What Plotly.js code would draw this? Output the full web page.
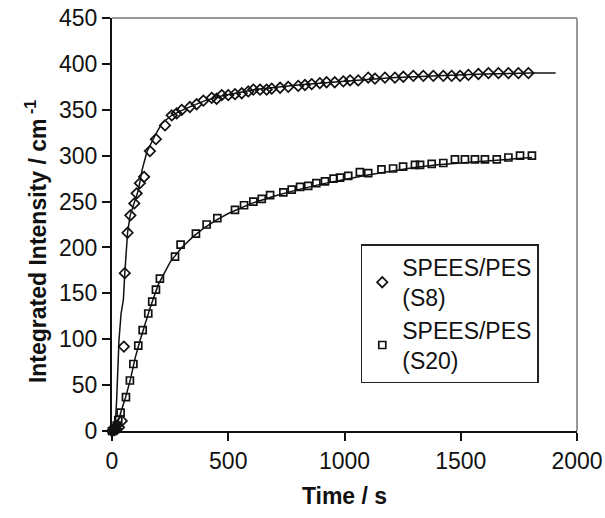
<!DOCTYPE html>
<html>
<head>
<meta charset="utf-8">
<script src="https://cdn.plot.ly/plotly-3.0.1.min.js"></script>
<style>html,body{margin:0;padding:0;background:#fff;}#chart{width:605px;height:518px;}</style>
</head>
<body>
<div id="chart"></div>
<script>
// S8 measured points
var s8Time = [0, 10, 20, 30, 42, 51, 55, 67, 79, 96, 106, 120, 138, 163, 189, 228, 257, 278, 300, 335, 364, 393, 429, 450, 472, 500, 529, 558, 586, 608, 637, 665, 687, 723, 758, 801, 830, 859, 894, 923, 958, 995, 1024, 1059, 1102, 1131, 1174, 1217, 1253, 1296, 1339, 1382, 1425, 1461, 1497, 1533, 1576, 1619, 1662, 1705, 1748, 1791];
var s8Val = [0, 1, 2, 4, 11, 92, 172, 216, 235, 248, 259, 270, 277, 305, 318, 333, 344, 346, 350, 353, 356, 360, 363, 362, 366, 366, 367, 368, 370, 372, 372, 372, 373, 374, 375, 376, 377, 378, 379, 380, 380, 381, 382, 382, 385, 384, 385, 385, 386, 387, 387, 387, 387, 387, 387, 388, 389, 390, 390, 390, 390, 390];
// S8 fitted curve
var s8FitTime = [0, 13, 20, 27, 30, 39, 49, 55, 67, 78, 96, 113, 130, 150, 185, 214, 257, 314, 400, 471, 615, 800, 1000, 1200, 1400, 1600, 1800, 1908];
var s8FitVal = [0, 1, 34, 70, 99, 128, 143, 172, 216, 235, 248, 262, 285, 304, 322, 335, 344, 351, 360, 365, 372, 377, 381, 385, 387, 389, 390, 390];
// S20 measured points
var s20Time = [0, 7, 14, 20, 27, 37, 60, 77, 92, 113, 132, 156, 173, 189, 206, 271, 295, 361, 407, 453, 529, 568, 608, 644, 680, 737, 773, 809, 844, 879, 916, 953, 981, 1016, 1066, 1102, 1159, 1209, 1252, 1303, 1325, 1375, 1425, 1475, 1518, 1561, 1604, 1655, 1705, 1755, 1806];
var s20Val = [0, 1, 3, 6, 12, 20, 37, 55, 73, 93, 110, 128, 141, 154, 166, 190, 203, 215, 225, 232, 241, 246, 250, 253, 257, 260, 263, 266, 267, 270, 272, 275, 276, 278, 282, 281, 285, 286, 288, 290, 290, 291, 292, 296, 296, 296, 296, 296, 298, 300, 300];
// S20 fitted curve
var s20FitTime = [0, 20, 40, 60, 80, 100, 120, 140, 160, 180, 200, 250, 300, 350, 400, 450, 500, 600, 700, 800, 900, 1000, 1100, 1200, 1300, 1400, 1500, 1600, 1700, 1806];
var s20FitVal = [0, 5, 22, 38, 57, 80, 98, 116, 131, 146, 160, 184, 200, 212, 222, 230, 237, 248, 256, 263, 269, 274, 279, 283, 287, 290, 292, 294, 296, 298];

var seriesNames = ['SPEES/PES<br>(S8)', 'SPEES/PES<br>(S20)'];
var xTicks = [0, 500, 1000, 1500, 2000];
var yTicks = [0, 50, 100, 150, 200, 250, 300, 350, 400, 450];
var xTitle = 'Time / s';
var yTitle = 'Integrated Intensity / cm<sup> -1</sup>';

var FONT = 'Liberation Sans, Arial, sans-serif';

var traces = [
  {x: s8FitTime, y: s8FitVal, mode: 'lines', name: 'S8 fit', line: {color: '#111', width: 1.5}, showlegend: false, hoverinfo: 'skip', cliponaxis: false},
  {x: s20FitTime, y: s20FitVal, mode: 'lines', name: 'S20 fit', line: {color: '#111', width: 1.5}, showlegend: false, hoverinfo: 'skip', cliponaxis: false},
  {x: s8Time, y: s8Val, mode: 'markers', name: seriesNames[0], cliponaxis: false,
   marker: {symbol: 'diamond-open', size: 8, color: '#111', line: {width: 1.7, color: '#111'}}},
  {x: s20Time, y: s20Val, mode: 'markers', name: seriesNames[1], cliponaxis: false,
   marker: {symbol: 'square-open', size: 7, color: '#111', line: {width: 1.7, color: '#111'}}}
];

var layout = {
  width: 605, height: 518,
  margin: {l: 112, r: 28, t: 18, b: 87},
  paper_bgcolor: '#fff', plot_bgcolor: '#fff',
  font: {family: FONT, size: 22, color: '#111'},
  showlegend: true,
  legend: {
    x: 0.535, y: 0.452, xanchor: 'left', yanchor: 'top',
    bgcolor: '#fff', bordercolor: '#222', borderwidth: 1.5,
    font: {family: FONT, size: 23, color: '#111'},
    tracegroupgap: 0
  },
  xaxis: {
    range: [0, 2000], tickvals: xTicks, ticktext: xTicks.map(String),
    showgrid: false, zeroline: false, showline: true, linecolor: '#111', linewidth: 2,
    ticks: 'outside', ticklen: 8, tickwidth: 2, tickcolor: '#111',
    tickfont: {family: FONT, size: 23, color: '#111'},
    title: {text: '<b>' + xTitle + '</b>', font: {family: FONT, size: 23, color: '#111'}, standoff: 15},
    fixedrange: true
  },
  yaxis: {
    range: [0, 450], tickvals: yTicks, ticktext: yTicks.map(String),
    showgrid: false, zeroline: false, showline: true, linecolor: '#111', linewidth: 2,
    ticks: 'outside', ticklen: 8, tickwidth: 2, tickcolor: '#111',
    tickfont: {family: FONT, size: 23, color: '#111'},
    fixedrange: true
  },
  annotations: [
    {text: '<b>' + yTitle + '</b>', textangle: -90, showarrow: false,
     xref: 'paper', yref: 'paper', x: -0.162, y: 0.459, xanchor: 'center', yanchor: 'middle',
     font: {family: FONT, size: 23, color: '#111'}}
  ],
  shapes: [
    {type: 'line', xref: 'paper', yref: 'paper', x0: 0, x1: 1, y0: 1, y1: 1, line: {color: '#999', width: 2}},
    {type: 'line', xref: 'paper', yref: 'paper', x0: 1, x1: 1, y0: 0, y1: 1, line: {color: '#999', width: 2}}
  ]
};

Plotly.newPlot('chart', traces, layout, {displayModeBar: false, staticPlot: true});
</script>
</body>
</html>
